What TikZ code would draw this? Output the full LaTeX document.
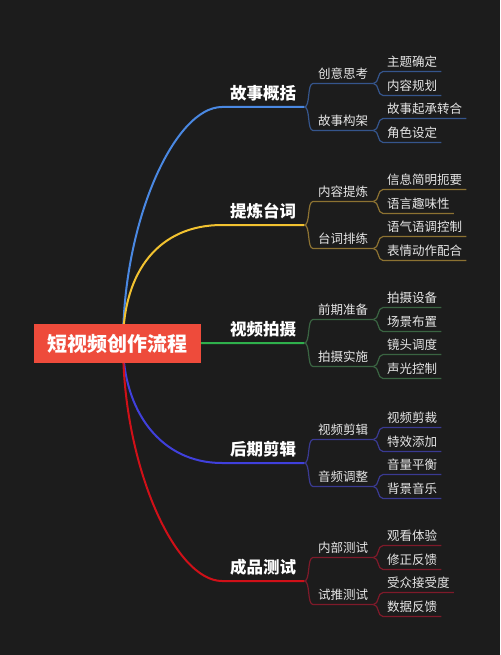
\documentclass[tikz,border=0pt]{standalone}
\usepackage{fontspec}
\newfontfamily\cjk{Noto Sans CJK SC}
\usepackage{xcolor}
\usepackage{tikz}
\usetikzlibrary{calc}
\usetikzlibrary{backgrounds}
\usetikzlibrary{positioning}

\definecolor{bg}{HTML}{1C1C1C}
\definecolor{rootred}{HTML}{EE4B3B}
\definecolor{txt}{HTML}{E6E6E6}
\definecolor{cA}{HTML}{4A88E2}
\definecolor{cAd}{HTML}{35558C}
\definecolor{cB}{HTML}{F2C230}
\definecolor{cBd}{HTML}{8C7232}
\definecolor{cC}{HTML}{2FB04C}
\definecolor{cCd}{HTML}{3A6442}
\definecolor{cD}{HTML}{4040DC}
\definecolor{cDd}{HTML}{3A3A92}
\definecolor{cE}{HTML}{D01018}
\definecolor{cEd}{HTML}{7E1A2A}

\tikzset{
  root/.style={rectangle, fill=rootred, text=white, minimum width=167pt, minimum height=39pt, inner xsep=12pt, font=\cjk\bfseries\fontsize{20}{24}\selectfont},
  topic/.style={anchor=south west, inner xsep=8pt, inner ysep=5pt, text height=13.5pt, text depth=2pt, text=white, font=\cjk\bfseries\fontsize{16.5}{20}\selectfont},
  sub/.style={anchor=south west, inner xsep=5pt, inner ysep=3.5pt, text height=10.3pt, text depth=1.5pt, text=txt, font=\cjk\fontsize{12.5}{15}\selectfont},
  leaf/.style={anchor=south west, inner xsep=4pt, inner ysep=3pt, text height=10.3pt, text depth=1.5pt, text=txt, font=\cjk\fontsize{12.5}{15}\selectfont},
  trunk/.style={line width=2pt},
  twig/.style={line width=1.2pt}
}

\begin{document}
\begin{tikzpicture}[x=1pt, y=-1pt]
\useasboundingbox (0,0) rectangle (500,655);
\node [root] (root) at (117.5, 343.5) {短视频创作流程};
\coordinate (hub) at ($(root.center)+(5.5,0)$);
% main topics
\node [topic] (A) at (222, 107) {故事概括};
\node [topic] (B) at (222, 225) {提炼台词};
\node [topic] (C) at (222, 343) {视频拍摄};
\node [topic] (D) at (222, 463) {后期剪辑};
\node [topic] (E) at (222, 581) {成品测试};
% second level
\node [sub] (A1) at (313, 83.5) {创意思考};
\node [sub] (A2) at (313, 130.5) {故事构架};
\node [sub] (B1) at (313, 201.5) {内容提炼};
\node [sub] (B2) at (313, 248.5) {台词排练};
\node [sub] (C1) at (313, 319.5) {前期准备};
\node [sub] (C2) at (313, 366.5) {拍摄实施};
\node [sub] (D1) at (313, 439.5) {视频剪辑};
\node [sub] (D2) at (313, 486.5) {音频调整};
\node [sub] (E1) at (313, 557.5) {内部测试};
\node [sub] (E2) at (313, 604.5) {试推测试};
% third level
\node [leaf] (A11) at (383, 71.5) {主题确定};
\node [leaf] (A12) at (383, 95.5) {内容规划};
\node [leaf] (A21) at (383, 118.5) {故事起承转合};
\node [leaf] (A22) at (383, 142.5) {角色设定};
\node [leaf] (B11) at (383, 189.5) {信息简明扼要};
\node [leaf] (B12) at (383, 213.5) {语言趣味性};
\node [leaf] (B21) at (383, 236.5) {语气语调控制};
\node [leaf] (B22) at (383, 260.5) {表情动作配合};
\node [leaf] (C11) at (383, 307.5) {拍摄设备};
\node [leaf] (C12) at (383, 331.5) {场景布置};
\node [leaf] (C21) at (383, 354.5) {镜头调度};
\node [leaf] (C22) at (383, 378.5) {声光控制};
\node [leaf] (D11) at (383, 427.5) {视频剪裁};
\node [leaf] (D12) at (383, 451.5) {特效添加};
\node [leaf] (D21) at (383, 474.5) {音量平衡};
\node [leaf] (D22) at (383, 498.5) {背景音乐};
\node [leaf] (E11) at (383, 545.5) {观看体验};
\node [leaf] (E12) at (383, 569.5) {修正反馈};
\node [leaf] (E21) at (383, 592.5) {受众接受度};
\node [leaf] (E22) at (383, 616.5) {数据反馈};
% branches out of the root
\begin{scope}[on background layer]
\fill [bg] (0,0) rectangle (500,655);
\draw [trunk, draw=cA] (hub) .. controls (123,220) and (175,107) .. (A.south west) -- (A.south east);
\draw [trunk, draw=cB] (hub) .. controls (123,270) and (160,225) .. (B.south west) -- (B.south east);
\draw [trunk, draw=cC] (hub) -- (C.south west) -- (C.south east);
\draw [trunk, draw=cD] (hub) .. controls (123,410) and (160,463) .. (D.south west) -- (D.south east);
\draw [trunk, draw=cE] (hub) .. controls (123,466) and (175,581) .. (E.south west) -- (E.south east);
\end{scope}
% topic to second level
\draw [twig, draw=cAd] (A.south east) .. controls +(6,0) and +(-6,0) .. (A1.south west) -- (A1.south east);
\draw [twig, draw=cAd] (A.south east) .. controls +(6,0) and +(-6,0) .. (A2.south west) -- (A2.south east);
\draw [twig, draw=cBd] (B.south east) .. controls +(6,0) and +(-6,0) .. (B1.south west) -- (B1.south east);
\draw [twig, draw=cBd] (B.south east) .. controls +(6,0) and +(-6,0) .. (B2.south west) -- (B2.south east);
\draw [twig, draw=cCd] (C.south east) .. controls +(6,0) and +(-6,0) .. (C1.south west) -- (C1.south east);
\draw [twig, draw=cCd] (C.south east) .. controls +(6,0) and +(-6,0) .. (C2.south west) -- (C2.south east);
\draw [twig, draw=cDd] (D.south east) .. controls +(6,0) and +(-6,0) .. (D1.south west) -- (D1.south east);
\draw [twig, draw=cDd] (D.south east) .. controls +(6,0) and +(-6,0) .. (D2.south west) -- (D2.south east);
\draw [twig, draw=cEd] (E.south east) .. controls +(6,0) and +(-6,0) .. (E1.south west) -- (E1.south east);
\draw [twig, draw=cEd] (E.south east) .. controls +(6,0) and +(-6,0) .. (E2.south west) -- (E2.south east);
% second to third level
\draw [twig, draw=cAd] (A1.south east) .. controls +(6,0) and +(-6,0) .. (A11.south west) -- (A11.south east);
\draw [twig, draw=cAd] (A1.south east) .. controls +(6,0) and +(-6,0) .. (A12.south west) -- (A12.south east);
\draw [twig, draw=cAd] (A2.south east) .. controls +(6,0) and +(-6,0) .. (A21.south west) -- (A21.south east);
\draw [twig, draw=cAd] (A2.south east) .. controls +(6,0) and +(-6,0) .. (A22.south west) -- (A22.south east);
\draw [twig, draw=cBd] (B1.south east) .. controls +(6,0) and +(-6,0) .. (B11.south west) -- (B11.south east);
\draw [twig, draw=cBd] (B1.south east) .. controls +(6,0) and +(-6,0) .. (B12.south west) -- (B12.south east);
\draw [twig, draw=cBd] (B2.south east) .. controls +(6,0) and +(-6,0) .. (B21.south west) -- (B21.south east);
\draw [twig, draw=cBd] (B2.south east) .. controls +(6,0) and +(-6,0) .. (B22.south west) -- (B22.south east);
\draw [twig, draw=cCd] (C1.south east) .. controls +(6,0) and +(-6,0) .. (C11.south west) -- (C11.south east);
\draw [twig, draw=cCd] (C1.south east) .. controls +(6,0) and +(-6,0) .. (C12.south west) -- (C12.south east);
\draw [twig, draw=cCd] (C2.south east) .. controls +(6,0) and +(-6,0) .. (C21.south west) -- (C21.south east);
\draw [twig, draw=cCd] (C2.south east) .. controls +(6,0) and +(-6,0) .. (C22.south west) -- (C22.south east);
\draw [twig, draw=cDd] (D1.south east) .. controls +(6,0) and +(-6,0) .. (D11.south west) -- (D11.south east);
\draw [twig, draw=cDd] (D1.south east) .. controls +(6,0) and +(-6,0) .. (D12.south west) -- (D12.south east);
\draw [twig, draw=cDd] (D2.south east) .. controls +(6,0) and +(-6,0) .. (D21.south west) -- (D21.south east);
\draw [twig, draw=cDd] (D2.south east) .. controls +(6,0) and +(-6,0) .. (D22.south west) -- (D22.south east);
\draw [twig, draw=cEd] (E1.south east) .. controls +(6,0) and +(-6,0) .. (E11.south west) -- (E11.south east);
\draw [twig, draw=cEd] (E1.south east) .. controls +(6,0) and +(-6,0) .. (E12.south west) -- (E12.south east);
\draw [twig, draw=cEd] (E2.south east) .. controls +(6,0) and +(-6,0) .. (E21.south west) -- (E21.south east);
\draw [twig, draw=cEd] (E2.south east) .. controls +(6,0) and +(-6,0) .. (E22.south west) -- (E22.south east);
\end{tikzpicture}
\end{document}
